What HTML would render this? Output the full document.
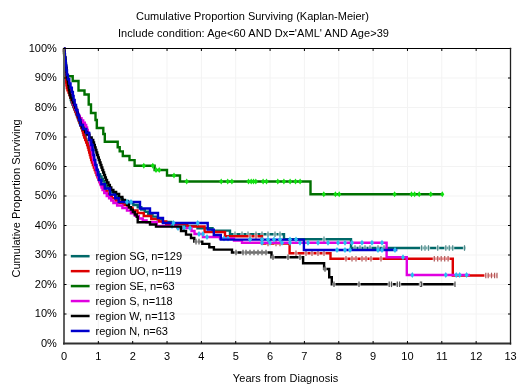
<!DOCTYPE html>
<html><head><meta charset="utf-8"><style>
html,body{margin:0;padding:0;background:#fff;}
svg{display:block;will-change:transform;}
text{font-family:"Liberation Sans",sans-serif;font-size:11px;fill:#000;}
</style></head><body>
<svg width="520" height="390" viewBox="0 0 520 390">
<rect width="520" height="390" fill="#fff"/>
<line x1="98.35" y1="48.5" x2="98.35" y2="343.5" stroke="#f3f3f3" stroke-width="1"/>
<line x1="132.69" y1="48.5" x2="132.69" y2="343.5" stroke="#f3f3f3" stroke-width="1"/>
<line x1="167.04" y1="48.5" x2="167.04" y2="343.5" stroke="#f3f3f3" stroke-width="1"/>
<line x1="201.38" y1="48.5" x2="201.38" y2="343.5" stroke="#f3f3f3" stroke-width="1"/>
<line x1="235.73" y1="48.5" x2="235.73" y2="343.5" stroke="#f3f3f3" stroke-width="1"/>
<line x1="270.08" y1="48.5" x2="270.08" y2="343.5" stroke="#f3f3f3" stroke-width="1"/>
<line x1="304.42" y1="48.5" x2="304.42" y2="343.5" stroke="#f3f3f3" stroke-width="1"/>
<line x1="338.77" y1="48.5" x2="338.77" y2="343.5" stroke="#f3f3f3" stroke-width="1"/>
<line x1="373.12" y1="48.5" x2="373.12" y2="343.5" stroke="#f3f3f3" stroke-width="1"/>
<line x1="407.46" y1="48.5" x2="407.46" y2="343.5" stroke="#f3f3f3" stroke-width="1"/>
<line x1="441.81" y1="48.5" x2="441.81" y2="343.5" stroke="#f3f3f3" stroke-width="1"/>
<line x1="476.15" y1="48.5" x2="476.15" y2="343.5" stroke="#f3f3f3" stroke-width="1"/>
<line x1="64.0" y1="314.00" x2="510.5" y2="314.00" stroke="#f3f3f3" stroke-width="1"/>
<line x1="64.0" y1="284.50" x2="510.5" y2="284.50" stroke="#f3f3f3" stroke-width="1"/>
<line x1="64.0" y1="255.00" x2="510.5" y2="255.00" stroke="#f3f3f3" stroke-width="1"/>
<line x1="64.0" y1="225.50" x2="510.5" y2="225.50" stroke="#f3f3f3" stroke-width="1"/>
<line x1="64.0" y1="196.00" x2="510.5" y2="196.00" stroke="#f3f3f3" stroke-width="1"/>
<line x1="64.0" y1="166.50" x2="510.5" y2="166.50" stroke="#f3f3f3" stroke-width="1"/>
<line x1="64.0" y1="137.00" x2="510.5" y2="137.00" stroke="#f3f3f3" stroke-width="1"/>
<line x1="64.0" y1="107.50" x2="510.5" y2="107.50" stroke="#f3f3f3" stroke-width="1"/>
<line x1="64.0" y1="78.00" x2="510.5" y2="78.00" stroke="#f3f3f3" stroke-width="1"/>
<path d="M64.00,48.50H64.11V50.89H64.33V53.28H64.56V55.67H64.78V58.06H65.00V60.44H65.22V62.83H65.44V65.22H65.67V67.61H65.89V70.00H66.00H66.19V72.31H66.58V74.62H66.96V76.92H67.35V79.23H67.73V81.54H68.12V83.85H68.50V86.15H68.88V88.46H69.27V90.77H69.65V93.08H70.04V95.38H70.42V97.69H70.81V100.00H71.00H71.46V102.33H72.38V104.67H73.29V107.00H74.21V109.33H75.12V111.67H76.04V114.00H76.96V116.33H77.88V118.67H78.79V121.00H79.71V123.33H80.62V125.67H81.54V128.00H82.00H82.40V130.20H83.20V132.40H84.00V134.60H84.80V136.80H85.60V139.00H86.40V141.20H87.20V143.40H88.00V145.60H88.80V147.80H89.60V150.00H90.00H90.40V152.20H91.20V154.40H92.00V156.60H92.80V158.80H93.60V161.00H94.40V163.20H95.20V165.40H96.00V167.60H96.80V169.80H97.60V172.00H98.00H98.71V174.29H100.14V176.57H101.57V178.86H103.00V181.14H104.43V183.43H105.86V185.71H107.29V188.00H108.00H109.20V190.20H111.60V192.40H114.00V194.60H116.40V196.80H118.80V199.00H120.00H122.67V201.00H128.00V203.00H133.33V205.00H136.00H137.75V207.25H141.25V209.50H144.75V211.75H148.25V214.00H150.00H152.50V216.67H157.50V219.33H162.50V222.00H165.00H171.25V224.00H183.75V226.00H190.00H197.50V228.30H212.50V230.60H220.00H230.00V234.20H284.00V239.20H351.00V248.00H466.00" fill="none" stroke="#006868" stroke-width="2.4" stroke-linejoin="miter" stroke-linecap="butt"/>
<rect x="233.4" y="232.6" width="3.2" height="3.2" fill="#fff" opacity="0.7"/><path d="M235.0,231.4v5.6" stroke="#508a8a" stroke-width="1.2" fill="none"/>
<rect x="240.4" y="232.6" width="3.2" height="3.2" fill="#fff" opacity="0.7"/><path d="M242.0,231.4v5.6" stroke="#508a8a" stroke-width="1.2" fill="none"/>
<rect x="246.4" y="232.6" width="3.2" height="3.2" fill="#fff" opacity="0.7"/><path d="M248.0,231.4v5.6" stroke="#508a8a" stroke-width="1.2" fill="none"/>
<rect x="254.4" y="232.6" width="3.2" height="3.2" fill="#fff" opacity="0.7"/><path d="M256.0,231.4v5.6" stroke="#508a8a" stroke-width="1.2" fill="none"/>
<rect x="260.4" y="232.6" width="3.2" height="3.2" fill="#fff" opacity="0.7"/><path d="M262.0,231.4v5.6" stroke="#508a8a" stroke-width="1.2" fill="none"/>
<rect x="266.4" y="232.6" width="3.2" height="3.2" fill="#fff" opacity="0.7"/><path d="M268.0,231.4v5.6" stroke="#508a8a" stroke-width="1.2" fill="none"/>
<rect x="273.4" y="232.6" width="3.2" height="3.2" fill="#fff" opacity="0.7"/><path d="M275.0,231.4v5.6" stroke="#508a8a" stroke-width="1.2" fill="none"/>
<rect x="278.4" y="232.6" width="3.2" height="3.2" fill="#fff" opacity="0.7"/><path d="M280.0,231.4v5.6" stroke="#508a8a" stroke-width="1.2" fill="none"/>
<rect x="322.4" y="237.6" width="3.2" height="3.2" fill="#fff" opacity="0.7"/><path d="M324.0,236.4v5.6" stroke="#508a8a" stroke-width="1.2" fill="none"/>
<rect x="353.4" y="246.4" width="3.2" height="3.2" fill="#fff" opacity="0.7"/><path d="M355.0,245.2v5.6" stroke="#508a8a" stroke-width="1.2" fill="none"/>
<rect x="358.4" y="246.4" width="3.2" height="3.2" fill="#fff" opacity="0.7"/><path d="M360.0,245.2v5.6" stroke="#508a8a" stroke-width="1.2" fill="none"/>
<rect x="363.4" y="246.4" width="3.2" height="3.2" fill="#fff" opacity="0.7"/><path d="M365.0,245.2v5.6" stroke="#508a8a" stroke-width="1.2" fill="none"/>
<rect x="368.4" y="246.4" width="3.2" height="3.2" fill="#fff" opacity="0.7"/><path d="M370.0,245.2v5.6" stroke="#508a8a" stroke-width="1.2" fill="none"/>
<rect x="376.4" y="246.4" width="3.2" height="3.2" fill="#fff" opacity="0.7"/><path d="M378.0,245.2v5.6" stroke="#508a8a" stroke-width="1.2" fill="none"/>
<rect x="382.4" y="246.4" width="3.2" height="3.2" fill="#fff" opacity="0.7"/><path d="M384.0,245.2v5.6" stroke="#508a8a" stroke-width="1.2" fill="none"/>
<rect x="420.0" y="246.4" width="3.2" height="3.2" fill="#fff" opacity="0.7"/><path d="M421.6,245.2v5.6" stroke="#508a8a" stroke-width="1.2" fill="none"/>
<rect x="423.4" y="246.4" width="3.2" height="3.2" fill="#fff" opacity="0.7"/><path d="M425.0,245.2v5.6" stroke="#508a8a" stroke-width="1.2" fill="none"/>
<rect x="426.9" y="246.4" width="3.2" height="3.2" fill="#fff" opacity="0.7"/><path d="M428.5,245.2v5.6" stroke="#508a8a" stroke-width="1.2" fill="none"/>
<rect x="436.1" y="246.4" width="3.2" height="3.2" fill="#fff" opacity="0.7"/><path d="M437.7,245.2v5.6" stroke="#508a8a" stroke-width="1.2" fill="none"/>
<rect x="444.2" y="246.4" width="3.2" height="3.2" fill="#fff" opacity="0.7"/><path d="M445.8,245.2v5.6" stroke="#508a8a" stroke-width="1.2" fill="none"/>
<rect x="447.7" y="246.4" width="3.2" height="3.2" fill="#fff" opacity="0.7"/><path d="M449.3,245.2v5.6" stroke="#508a8a" stroke-width="1.2" fill="none"/>
<rect x="451.1" y="246.4" width="3.2" height="3.2" fill="#fff" opacity="0.7"/><path d="M452.7,245.2v5.6" stroke="#508a8a" stroke-width="1.2" fill="none"/>
<rect x="462.9" y="246.4" width="3.2" height="3.2" fill="#fff" opacity="0.7"/><path d="M464.5,245.2v5.6" stroke="#508a8a" stroke-width="1.2" fill="none"/>
<path d="M64.00,48.50H64.03V50.80H64.09V53.10H64.15V55.40H64.21V57.70H64.27V60.00H64.30H64.34V62.40H64.42V64.80H64.50V67.20H64.58V69.60H64.66V72.00H64.70H64.89V74.67H65.28V77.33H65.66V80.00H66.04V82.67H66.42V85.33H66.81V88.00H67.00H67.50V90.33H68.50V92.67H69.50V95.00H70.00H70.43V97.43H71.29V99.86H72.14V102.29H73.00V104.71H73.86V107.14H74.71V109.57H75.57V112.00H76.00H76.50V114.67H77.50V117.33H78.50V120.00H79.50V122.67H80.50V125.33H81.50V128.00H82.00H82.30V130.33H82.90V132.67H83.50V135.00H83.80H84.27V137.50H85.22V140.00H86.17V142.50H87.12V145.00H87.60H87.92V147.50H88.57V150.00H89.22V152.50H89.88V155.00H90.53V157.50H91.17V160.00H91.50H91.96V162.50H92.88V165.00H93.79V167.50H94.71V170.00H95.62V172.50H96.54V175.00H97.00H97.50V177.25H98.50V179.50H99.50V181.75H100.50V184.00H101.00H101.90V186.40H103.70V188.80H105.50V191.20H107.30V193.60H109.10V196.00H110.00H111.88V198.25H115.62V200.50H119.38V202.75H123.12V205.00H125.00H127.50V207.67H132.50V210.33H137.50V213.00H140.00H143.75V216.00H151.25V219.00H155.00H158.75V221.50H166.25V224.00H170.00H187.30V226.50H204.60V232.00H225.00V236.30H262.00V243.50H289.60V253.30H330.50V258.80H452.80V275.50H497.00" fill="none" stroke="#dd0000" stroke-width="2.4" stroke-linejoin="miter" stroke-linecap="butt"/>
<rect x="248.4" y="234.7" width="3.2" height="3.2" fill="#fff" opacity="0.7"/><path d="M250.0,233.5v5.6" stroke="#b05858" stroke-width="1.2" fill="none"/>
<rect x="254.4" y="234.7" width="3.2" height="3.2" fill="#fff" opacity="0.7"/><path d="M256.0,233.5v5.6" stroke="#b05858" stroke-width="1.2" fill="none"/>
<rect x="266.4" y="241.9" width="3.2" height="3.2" fill="#fff" opacity="0.7"/><path d="M268.0,240.7v5.6" stroke="#b05858" stroke-width="1.2" fill="none"/>
<rect x="274.4" y="241.9" width="3.2" height="3.2" fill="#fff" opacity="0.7"/><path d="M276.0,240.7v5.6" stroke="#b05858" stroke-width="1.2" fill="none"/>
<rect x="278.4" y="241.9" width="3.2" height="3.2" fill="#fff" opacity="0.7"/><path d="M280.0,240.7v5.6" stroke="#b05858" stroke-width="1.2" fill="none"/>
<rect x="294.4" y="251.7" width="3.2" height="3.2" fill="#fff" opacity="0.7"/><path d="M296.0,250.5v5.6" stroke="#b05858" stroke-width="1.2" fill="none"/>
<rect x="304.4" y="251.7" width="3.2" height="3.2" fill="#fff" opacity="0.7"/><path d="M306.0,250.5v5.6" stroke="#b05858" stroke-width="1.2" fill="none"/>
<rect x="310.4" y="251.7" width="3.2" height="3.2" fill="#fff" opacity="0.7"/><path d="M312.0,250.5v5.6" stroke="#b05858" stroke-width="1.2" fill="none"/>
<rect x="316.4" y="251.7" width="3.2" height="3.2" fill="#fff" opacity="0.7"/><path d="M318.0,250.5v5.6" stroke="#b05858" stroke-width="1.2" fill="none"/>
<rect x="322.4" y="251.7" width="3.2" height="3.2" fill="#fff" opacity="0.7"/><path d="M324.0,250.5v5.6" stroke="#b05858" stroke-width="1.2" fill="none"/>
<rect x="344.4" y="257.2" width="3.2" height="3.2" fill="#fff" opacity="0.7"/><path d="M346.0,256.0v5.6" stroke="#b05858" stroke-width="1.2" fill="none"/>
<rect x="350.4" y="257.2" width="3.2" height="3.2" fill="#fff" opacity="0.7"/><path d="M352.0,256.0v5.6" stroke="#b05858" stroke-width="1.2" fill="none"/>
<rect x="354.4" y="257.2" width="3.2" height="3.2" fill="#fff" opacity="0.7"/><path d="M356.0,256.0v5.6" stroke="#b05858" stroke-width="1.2" fill="none"/>
<rect x="360.4" y="257.2" width="3.2" height="3.2" fill="#fff" opacity="0.7"/><path d="M362.0,256.0v5.6" stroke="#b05858" stroke-width="1.2" fill="none"/>
<rect x="364.4" y="257.2" width="3.2" height="3.2" fill="#fff" opacity="0.7"/><path d="M366.0,256.0v5.6" stroke="#b05858" stroke-width="1.2" fill="none"/>
<rect x="369.4" y="257.2" width="3.2" height="3.2" fill="#fff" opacity="0.7"/><path d="M371.0,256.0v5.6" stroke="#b05858" stroke-width="1.2" fill="none"/>
<rect x="379.4" y="257.2" width="3.2" height="3.2" fill="#fff" opacity="0.7"/><path d="M381.0,256.0v5.6" stroke="#b05858" stroke-width="1.2" fill="none"/>
<rect x="432.7" y="257.2" width="3.2" height="3.2" fill="#fff" opacity="0.7"/><path d="M434.3,256.0v5.6" stroke="#b05858" stroke-width="1.2" fill="none"/>
<rect x="436.1" y="257.2" width="3.2" height="3.2" fill="#fff" opacity="0.7"/><path d="M437.7,256.0v5.6" stroke="#b05858" stroke-width="1.2" fill="none"/>
<rect x="439.6" y="257.2" width="3.2" height="3.2" fill="#fff" opacity="0.7"/><path d="M441.2,256.0v5.6" stroke="#b05858" stroke-width="1.2" fill="none"/>
<rect x="443.1" y="257.2" width="3.2" height="3.2" fill="#fff" opacity="0.7"/><path d="M444.7,256.0v5.6" stroke="#b05858" stroke-width="1.2" fill="none"/>
<rect x="446.5" y="257.2" width="3.2" height="3.2" fill="#fff" opacity="0.7"/><path d="M448.1,256.0v5.6" stroke="#b05858" stroke-width="1.2" fill="none"/>
<rect x="484.2" y="273.9" width="3.2" height="3.2" fill="#fff" opacity="0.7"/><path d="M485.8,272.7v5.6" stroke="#b05858" stroke-width="1.2" fill="none"/>
<rect x="486.6" y="273.9" width="3.2" height="3.2" fill="#fff" opacity="0.7"/><path d="M488.2,272.7v5.6" stroke="#b05858" stroke-width="1.2" fill="none"/>
<rect x="489.9" y="273.9" width="3.2" height="3.2" fill="#fff" opacity="0.7"/><path d="M491.5,272.7v5.6" stroke="#b05858" stroke-width="1.2" fill="none"/>
<rect x="493.0" y="273.9" width="3.2" height="3.2" fill="#fff" opacity="0.7"/><path d="M494.6,272.7v5.6" stroke="#b05858" stroke-width="1.2" fill="none"/>
<rect x="495.4" y="273.9" width="3.2" height="3.2" fill="#fff" opacity="0.7"/><path d="M497.0,272.7v5.6" stroke="#b05858" stroke-width="1.2" fill="none"/>
<path d="M64,48.5V53H64.7V58H65.4V63H66V68H66.8V76.2H72.7V81H78.5V90.5H84.5V94.5H88.7V104.5H91V113H95.5V120H96.8V128H103.3V134H104.8V141.8H117.7V147.3H119.7V151.4H122.8V156H129.5V160.1H134.6V165.7H154.6V170H167V175.5H180V181.5H310.5V194.2H442.5" fill="none" stroke="#007000" stroke-width="2.4" stroke-linejoin="miter" stroke-linecap="butt"/>
<path d="M143.8,162.7l2,3l-2,3l-2,-3z" fill="#10e010"/>
<path d="M152.8,162.7l2,3l-2,3l-2,-3z" fill="#10e010"/>
<path d="M156.0,167.0l2,3l-2,3l-2,-3z" fill="#10e010"/>
<path d="M159.2,167.0l2,3l-2,3l-2,-3z" fill="#10e010"/>
<path d="M174.0,172.5l2,3l-2,3l-2,-3z" fill="#10e010"/>
<path d="M186.7,178.5l2,3l-2,3l-2,-3z" fill="#10e010"/>
<path d="M221.2,178.5l2,3l-2,3l-2,-3z" fill="#10e010"/>
<path d="M227.7,178.5l2,3l-2,3l-2,-3z" fill="#10e010"/>
<path d="M231.9,178.5l2,3l-2,3l-2,-3z" fill="#10e010"/>
<path d="M248.5,178.5l2,3l-2,3l-2,-3z" fill="#10e010"/>
<path d="M251.2,178.5l2,3l-2,3l-2,-3z" fill="#10e010"/>
<path d="M253.5,178.5l2,3l-2,3l-2,-3z" fill="#10e010"/>
<path d="M255.8,178.5l2,3l-2,3l-2,-3z" fill="#10e010"/>
<path d="M263.1,178.5l2,3l-2,3l-2,-3z" fill="#10e010"/>
<path d="M266.5,178.5l2,3l-2,3l-2,-3z" fill="#10e010"/>
<path d="M277.8,178.5l2,3l-2,3l-2,-3z" fill="#10e010"/>
<path d="M283.9,178.5l2,3l-2,3l-2,-3z" fill="#10e010"/>
<path d="M290.1,178.5l2,3l-2,3l-2,-3z" fill="#10e010"/>
<path d="M295.5,178.5l2,3l-2,3l-2,-3z" fill="#10e010"/>
<path d="M300.1,178.5l2,3l-2,3l-2,-3z" fill="#10e010"/>
<path d="M323.8,191.2l2,3l-2,3l-2,-3z" fill="#10e010"/>
<path d="M335.4,191.2l2,3l-2,3l-2,-3z" fill="#10e010"/>
<path d="M339.2,191.2l2,3l-2,3l-2,-3z" fill="#10e010"/>
<path d="M394.6,191.2l2,3l-2,3l-2,-3z" fill="#10e010"/>
<path d="M411.5,191.2l2,3l-2,3l-2,-3z" fill="#10e010"/>
<path d="M414.6,191.2l2,3l-2,3l-2,-3z" fill="#10e010"/>
<path d="M419.2,191.2l2,3l-2,3l-2,-3z" fill="#10e010"/>
<path d="M430.8,191.2l2,3l-2,3l-2,-3z" fill="#10e010"/>
<path d="M442.3,191.2l2,3l-2,3l-2,-3z" fill="#10e010"/>
<path d="M64.00,48.50H64.11V50.89H64.33V53.28H64.56V55.67H64.78V58.06H65.00V60.44H65.22V62.83H65.44V65.22H65.67V67.61H65.89V70.00H66.00H66.27V72.46H66.81V74.92H67.35V77.38H67.88V79.85H68.42V82.31H68.96V84.77H69.50V87.23H70.04V89.69H70.58V92.15H71.12V94.62H71.65V97.08H72.19V99.54H72.73V102.00H73.00H73.50V104.33H74.50V106.67H75.50V109.00H76.50V111.33H77.50V113.67H78.50V116.00H79.00H79.84V118.25H81.51V120.50H83.19V122.75H84.86V125.00H85.70H86.15V127.50H87.05V130.00H87.50H87.81V132.50H88.44V135.00H89.06V137.50H89.69V140.00H90.00H90.22V142.50H90.66V145.00H91.09V147.50H91.53V150.00H91.97V152.50H92.41V155.00H92.84V157.50H93.28V160.00H93.50H93.86V162.50H94.57V165.00H95.28V167.50H95.99V170.00H96.71V172.50H97.42V175.00H98.13V177.50H98.84V180.00H99.20H99.67V182.50H100.62V185.00H101.58V187.50H102.53V190.00H103.00H104.25V193.00H106.75V196.00H108.00H109.08V198.33H111.25V200.67H113.42V203.00H114.50H117.12V205.50H122.38V208.00H125.00H126.97V210.62H130.93V213.25H134.88V215.88H138.83V218.50H140.80H142.73V220.40H146.57V222.30H148.50H156.75V226.00H165.00H177.50V228.00H190.00H191.50V231.00H194.50V234.00H196.00H203.00V237.00H210.00H220.00V238.50H230.00H234.00V240.60H242.00V242.70H246.00H386.60V257.30H406.80V275.00H470.00" fill="none" stroke="#e000e0" stroke-width="2.4" stroke-linejoin="miter" stroke-linecap="butt"/>
<path d="M172.0,223.0l2,3l-2,3l-2,-3z" fill="#28c0f0"/>
<path d="M178.0,225.0l2,3l-2,3l-2,-3z" fill="#28c0f0"/>
<path d="M184.0,225.0l2,3l-2,3l-2,-3z" fill="#28c0f0"/>
<path d="M190.0,225.0l2,3l-2,3l-2,-3z" fill="#28c0f0"/>
<path d="M199.0,231.0l2,3l-2,3l-2,-3z" fill="#28c0f0"/>
<path d="M203.0,231.0l2,3l-2,3l-2,-3z" fill="#28c0f0"/>
<path d="M207.0,234.0l2,3l-2,3l-2,-3z" fill="#28c0f0"/>
<path d="M224.0,235.5l2,3l-2,3l-2,-3z" fill="#28c0f0"/>
<path d="M228.0,235.5l2,3l-2,3l-2,-3z" fill="#28c0f0"/>
<path d="M262.0,239.7l2,3l-2,3l-2,-3z" fill="#28c0f0"/>
<path d="M270.0,239.7l2,3l-2,3l-2,-3z" fill="#28c0f0"/>
<path d="M282.0,239.7l2,3l-2,3l-2,-3z" fill="#28c0f0"/>
<path d="M290.0,239.7l2,3l-2,3l-2,-3z" fill="#28c0f0"/>
<path d="M300.0,239.7l2,3l-2,3l-2,-3z" fill="#28c0f0"/>
<path d="M308.0,239.7l2,3l-2,3l-2,-3z" fill="#28c0f0"/>
<path d="M318.0,239.7l2,3l-2,3l-2,-3z" fill="#28c0f0"/>
<path d="M328.0,239.7l2,3l-2,3l-2,-3z" fill="#28c0f0"/>
<path d="M338.0,239.7l2,3l-2,3l-2,-3z" fill="#28c0f0"/>
<path d="M345.0,239.7l2,3l-2,3l-2,-3z" fill="#28c0f0"/>
<path d="M352.0,239.7l2,3l-2,3l-2,-3z" fill="#28c0f0"/>
<path d="M362.0,239.7l2,3l-2,3l-2,-3z" fill="#28c0f0"/>
<path d="M372.0,239.7l2,3l-2,3l-2,-3z" fill="#28c0f0"/>
<path d="M382.0,239.7l2,3l-2,3l-2,-3z" fill="#28c0f0"/>
<path d="M403.0,254.3l2,3l-2,3l-2,-3z" fill="#28c0f0"/>
<path d="M412.3,272.0l2,3l-2,3l-2,-3z" fill="#28c0f0"/>
<path d="M445.8,272.0l2,3l-2,3l-2,-3z" fill="#28c0f0"/>
<path d="M456.2,272.0l2,3l-2,3l-2,-3z" fill="#28c0f0"/>
<path d="M459.7,272.0l2,3l-2,3l-2,-3z" fill="#28c0f0"/>
<path d="M466.6,272.0l2,3l-2,3l-2,-3z" fill="#28c0f0"/>
<path d="M64.00,48.50H64.19V51.38H64.56V54.25H64.94V57.12H65.31V60.00H65.50H65.60V62.40H65.80V64.80H66.00V67.20H66.20V69.60H66.40V72.00H66.50H66.69V74.56H67.08V77.11H67.47V79.67H67.86V82.22H68.25V84.78H68.64V87.33H69.03V89.89H69.42V92.44H69.81V95.00H70.00H70.62V97.50H71.88V100.00H72.50H73.03V102.50H74.08V105.00H75.12V107.50H76.17V110.00H76.70H77.08V112.50H77.83V115.00H78.58V117.50H79.33V120.00H80.08V122.50H80.83V125.00H81.20H82.00V127.33H83.60V129.67H85.20V132.00H86.00H87.13V134.67H89.40V137.33H91.67V140.00H92.80H93.20V142.50H94.00V145.00H94.80V147.50H95.60V150.00H96.40V152.50H97.20V155.00H98.00V157.50H98.80V160.00H99.20H99.64V162.50H100.53V165.00H101.42V167.50H102.31V170.00H103.19V172.50H104.08V175.00H104.97V177.50H105.86V180.00H106.30H107.01V182.50H108.44V185.00H109.86V187.50H111.29V190.00H112.00H113.38V192.00H116.12V194.00H117.50H119.12V197.00H122.38V200.00H124.00H124.98V202.41H126.94V204.83H128.89V207.24H130.85V209.66H132.81V212.07H134.76V214.49H136.72V216.90H137.70V222.30H150.00V224.50H156.00V226.60H181.00V231.00H186.00V234.60H191.00V238.00H194.30V241.60H202.30V243.90H209.30V247.30H213.90V249.60H232.00V252.50H271.50V257.30H303.10V263.30H324.10V269.00H329.20V277.20H331.80V284.30H455.00" fill="none" stroke="#000000" stroke-width="2.4" stroke-linejoin="miter" stroke-linecap="butt"/>
<rect x="194.4" y="240.0" width="3.2" height="3.2" fill="#fff" opacity="0.7"/><path d="M196.0,238.8v5.6" stroke="#505050" stroke-width="1.2" fill="none"/>
<rect x="197.4" y="240.0" width="3.2" height="3.2" fill="#fff" opacity="0.7"/><path d="M199.0,238.8v5.6" stroke="#505050" stroke-width="1.2" fill="none"/>
<rect x="234.4" y="250.9" width="3.2" height="3.2" fill="#fff" opacity="0.7"/><path d="M236.0,249.7v5.6" stroke="#505050" stroke-width="1.2" fill="none"/>
<rect x="241.4" y="250.9" width="3.2" height="3.2" fill="#fff" opacity="0.7"/><path d="M243.0,249.7v5.6" stroke="#505050" stroke-width="1.2" fill="none"/>
<rect x="244.4" y="250.9" width="3.2" height="3.2" fill="#fff" opacity="0.7"/><path d="M246.0,249.7v5.6" stroke="#505050" stroke-width="1.2" fill="none"/>
<rect x="248.4" y="250.9" width="3.2" height="3.2" fill="#fff" opacity="0.7"/><path d="M250.0,249.7v5.6" stroke="#505050" stroke-width="1.2" fill="none"/>
<rect x="252.4" y="250.9" width="3.2" height="3.2" fill="#fff" opacity="0.7"/><path d="M254.0,249.7v5.6" stroke="#505050" stroke-width="1.2" fill="none"/>
<rect x="256.4" y="250.9" width="3.2" height="3.2" fill="#fff" opacity="0.7"/><path d="M258.0,249.7v5.6" stroke="#505050" stroke-width="1.2" fill="none"/>
<rect x="260.4" y="250.9" width="3.2" height="3.2" fill="#fff" opacity="0.7"/><path d="M262.0,249.7v5.6" stroke="#505050" stroke-width="1.2" fill="none"/>
<rect x="264.4" y="250.9" width="3.2" height="3.2" fill="#fff" opacity="0.7"/><path d="M266.0,249.7v5.6" stroke="#505050" stroke-width="1.2" fill="none"/>
<rect x="271.4" y="255.7" width="3.2" height="3.2" fill="#fff" opacity="0.7"/><path d="M273.0,254.5v5.6" stroke="#505050" stroke-width="1.2" fill="none"/>
<rect x="286.4" y="255.7" width="3.2" height="3.2" fill="#fff" opacity="0.7"/><path d="M288.0,254.5v5.6" stroke="#505050" stroke-width="1.2" fill="none"/>
<rect x="298.4" y="255.7" width="3.2" height="3.2" fill="#fff" opacity="0.7"/><path d="M300.0,254.5v5.6" stroke="#505050" stroke-width="1.2" fill="none"/>
<rect x="323.4" y="267.4" width="3.2" height="3.2" fill="#fff" opacity="0.7"/><path d="M325.0,266.2v5.6" stroke="#505050" stroke-width="1.2" fill="none"/>
<rect x="332.4" y="282.7" width="3.2" height="3.2" fill="#fff" opacity="0.7"/><path d="M334.0,281.5v5.6" stroke="#505050" stroke-width="1.2" fill="none"/>
<rect x="357.4" y="282.7" width="3.2" height="3.2" fill="#fff" opacity="0.7"/><path d="M359.0,281.5v5.6" stroke="#505050" stroke-width="1.2" fill="none"/>
<rect x="387.6" y="282.7" width="3.2" height="3.2" fill="#fff" opacity="0.7"/><path d="M389.2,281.5v5.6" stroke="#505050" stroke-width="1.2" fill="none"/>
<rect x="389.9" y="282.7" width="3.2" height="3.2" fill="#fff" opacity="0.7"/><path d="M391.5,281.5v5.6" stroke="#505050" stroke-width="1.2" fill="none"/>
<rect x="395.7" y="282.7" width="3.2" height="3.2" fill="#fff" opacity="0.7"/><path d="M397.3,281.5v5.6" stroke="#505050" stroke-width="1.2" fill="none"/>
<rect x="398.0" y="282.7" width="3.2" height="3.2" fill="#fff" opacity="0.7"/><path d="M399.6,281.5v5.6" stroke="#505050" stroke-width="1.2" fill="none"/>
<rect x="418.8" y="282.7" width="3.2" height="3.2" fill="#fff" opacity="0.7"/><path d="M420.4,281.5v5.6" stroke="#505050" stroke-width="1.2" fill="none"/>
<rect x="420.0" y="282.7" width="3.2" height="3.2" fill="#fff" opacity="0.7"/><path d="M421.6,281.5v5.6" stroke="#505050" stroke-width="1.2" fill="none"/>
<rect x="453.4" y="282.7" width="3.2" height="3.2" fill="#fff" opacity="0.7"/><path d="M455.0,281.5v5.6" stroke="#505050" stroke-width="1.2" fill="none"/>
<path d="M64.00,48.50H64.25V52.67H64.75V56.83H65.25V61.00H65.50H65.80V65.67H66.40V70.33H67.00V75.00H67.30H67.95V79.25H69.25V83.50H70.55V87.75H71.85V92.00H72.50H72.88V96.00H73.62V100.00H74.00H74.67V105.00H76.03V110.00H76.70H77.45V115.00H78.95V120.00H80.45V125.00H81.20H82.90V129.00H86.30V133.00H88.00H89.25V140.00H90.50H91.30V145.00H92.10H92.53V150.00H93.40V155.00H94.27V160.00H94.70H95.31V165.00H96.54V170.00H97.76V175.00H98.99V180.00H99.60H101.32V184.25H104.78V188.50H106.50H110.00V194.60H113.50H115.22V198.30H118.68V202.00H120.40H140.00V208.50H150.00V213.00H158.00V218.00H163.00V223.00H207.70V229.60H213.80V235.00H220.80V239.60H303.90V250.00H397.30" fill="none" stroke="#0000cc" stroke-width="2.4" stroke-linejoin="miter" stroke-linecap="butt"/>
<path d="M127.0,199.0l2,3l-2,3l-2,-3z" fill="#28c0f0"/>
<path d="M131.0,199.0l2,3l-2,3l-2,-3z" fill="#28c0f0"/>
<path d="M173.5,220.0l2,3l-2,3l-2,-3z" fill="#28c0f0"/>
<path d="M197.7,220.0l2,3l-2,3l-2,-3z" fill="#28c0f0"/>
<path d="M250.0,236.6l2,3l-2,3l-2,-3z" fill="#28c0f0"/>
<path d="M262.0,236.6l2,3l-2,3l-2,-3z" fill="#28c0f0"/>
<path d="M268.0,236.6l2,3l-2,3l-2,-3z" fill="#28c0f0"/>
<path d="M274.0,236.6l2,3l-2,3l-2,-3z" fill="#28c0f0"/>
<path d="M280.0,236.6l2,3l-2,3l-2,-3z" fill="#28c0f0"/>
<path d="M290.0,236.6l2,3l-2,3l-2,-3z" fill="#28c0f0"/>
<path d="M296.0,236.6l2,3l-2,3l-2,-3z" fill="#28c0f0"/>
<path d="M337.0,247.0l2,3l-2,3l-2,-3z" fill="#28c0f0"/>
<path d="M345.0,247.0l2,3l-2,3l-2,-3z" fill="#28c0f0"/>
<path d="M350.0,247.0l2,3l-2,3l-2,-3z" fill="#28c0f0"/>
<path d="M378.0,247.0l2,3l-2,3l-2,-3z" fill="#28c0f0"/>
<path d="M382.0,247.0l2,3l-2,3l-2,-3z" fill="#28c0f0"/>
<path d="M395.0,247.0l2,3l-2,3l-2,-3z" fill="#28c0f0"/>
<line x1="64.0" y1="47.75" x2="64.0" y2="344.5" stroke="#606060" stroke-width="2"/>
<line x1="63.0" y1="343.5" x2="511.2" y2="343.5" stroke="#303030" stroke-width="2"/>
<line x1="63.0" y1="48.5" x2="511.2" y2="48.5" stroke="#000" stroke-width="1.2"/>
<line x1="510.5" y1="47.75" x2="510.5" y2="344.5" stroke="#202020" stroke-width="1.3"/>
<line x1="98.35" y1="343.5" x2="98.35" y2="341.0" stroke="#000" stroke-width="1"/>
<line x1="98.35" y1="48.5" x2="98.35" y2="51.0" stroke="#000" stroke-width="1"/>
<line x1="132.69" y1="343.5" x2="132.69" y2="341.0" stroke="#000" stroke-width="1"/>
<line x1="132.69" y1="48.5" x2="132.69" y2="51.0" stroke="#000" stroke-width="1"/>
<line x1="167.04" y1="343.5" x2="167.04" y2="341.0" stroke="#000" stroke-width="1"/>
<line x1="167.04" y1="48.5" x2="167.04" y2="51.0" stroke="#000" stroke-width="1"/>
<line x1="201.38" y1="343.5" x2="201.38" y2="341.0" stroke="#000" stroke-width="1"/>
<line x1="201.38" y1="48.5" x2="201.38" y2="51.0" stroke="#000" stroke-width="1"/>
<line x1="235.73" y1="343.5" x2="235.73" y2="341.0" stroke="#000" stroke-width="1"/>
<line x1="235.73" y1="48.5" x2="235.73" y2="51.0" stroke="#000" stroke-width="1"/>
<line x1="270.08" y1="343.5" x2="270.08" y2="341.0" stroke="#000" stroke-width="1"/>
<line x1="270.08" y1="48.5" x2="270.08" y2="51.0" stroke="#000" stroke-width="1"/>
<line x1="304.42" y1="343.5" x2="304.42" y2="341.0" stroke="#000" stroke-width="1"/>
<line x1="304.42" y1="48.5" x2="304.42" y2="51.0" stroke="#000" stroke-width="1"/>
<line x1="338.77" y1="343.5" x2="338.77" y2="341.0" stroke="#000" stroke-width="1"/>
<line x1="338.77" y1="48.5" x2="338.77" y2="51.0" stroke="#000" stroke-width="1"/>
<line x1="373.12" y1="343.5" x2="373.12" y2="341.0" stroke="#000" stroke-width="1"/>
<line x1="373.12" y1="48.5" x2="373.12" y2="51.0" stroke="#000" stroke-width="1"/>
<line x1="407.46" y1="343.5" x2="407.46" y2="341.0" stroke="#000" stroke-width="1"/>
<line x1="407.46" y1="48.5" x2="407.46" y2="51.0" stroke="#000" stroke-width="1"/>
<line x1="441.81" y1="343.5" x2="441.81" y2="341.0" stroke="#000" stroke-width="1"/>
<line x1="441.81" y1="48.5" x2="441.81" y2="51.0" stroke="#000" stroke-width="1"/>
<line x1="476.15" y1="343.5" x2="476.15" y2="341.0" stroke="#000" stroke-width="1"/>
<line x1="476.15" y1="48.5" x2="476.15" y2="51.0" stroke="#000" stroke-width="1"/>
<line x1="64.0" y1="314.00" x2="66.5" y2="314.00" stroke="#000" stroke-width="1"/>
<line x1="510.5" y1="314.00" x2="508.0" y2="314.00" stroke="#000" stroke-width="1"/>
<line x1="64.0" y1="284.50" x2="66.5" y2="284.50" stroke="#000" stroke-width="1"/>
<line x1="510.5" y1="284.50" x2="508.0" y2="284.50" stroke="#000" stroke-width="1"/>
<line x1="64.0" y1="255.00" x2="66.5" y2="255.00" stroke="#000" stroke-width="1"/>
<line x1="510.5" y1="255.00" x2="508.0" y2="255.00" stroke="#000" stroke-width="1"/>
<line x1="64.0" y1="225.50" x2="66.5" y2="225.50" stroke="#000" stroke-width="1"/>
<line x1="510.5" y1="225.50" x2="508.0" y2="225.50" stroke="#000" stroke-width="1"/>
<line x1="64.0" y1="196.00" x2="66.5" y2="196.00" stroke="#000" stroke-width="1"/>
<line x1="510.5" y1="196.00" x2="508.0" y2="196.00" stroke="#000" stroke-width="1"/>
<line x1="64.0" y1="166.50" x2="66.5" y2="166.50" stroke="#000" stroke-width="1"/>
<line x1="510.5" y1="166.50" x2="508.0" y2="166.50" stroke="#000" stroke-width="1"/>
<line x1="64.0" y1="137.00" x2="66.5" y2="137.00" stroke="#000" stroke-width="1"/>
<line x1="510.5" y1="137.00" x2="508.0" y2="137.00" stroke="#000" stroke-width="1"/>
<line x1="64.0" y1="107.50" x2="66.5" y2="107.50" stroke="#000" stroke-width="1"/>
<line x1="510.5" y1="107.50" x2="508.0" y2="107.50" stroke="#000" stroke-width="1"/>
<line x1="64.0" y1="78.00" x2="66.5" y2="78.00" stroke="#000" stroke-width="1"/>
<line x1="510.5" y1="78.00" x2="508.0" y2="78.00" stroke="#000" stroke-width="1"/>
<text x="64.00" y="359.5" text-anchor="middle">0</text>
<text x="98.35" y="359.5" text-anchor="middle">1</text>
<text x="132.69" y="359.5" text-anchor="middle">2</text>
<text x="167.04" y="359.5" text-anchor="middle">3</text>
<text x="201.38" y="359.5" text-anchor="middle">4</text>
<text x="235.73" y="359.5" text-anchor="middle">5</text>
<text x="270.08" y="359.5" text-anchor="middle">6</text>
<text x="304.42" y="359.5" text-anchor="middle">7</text>
<text x="338.77" y="359.5" text-anchor="middle">8</text>
<text x="373.12" y="359.5" text-anchor="middle">9</text>
<text x="407.46" y="359.5" text-anchor="middle">10</text>
<text x="441.81" y="359.5" text-anchor="middle">11</text>
<text x="476.15" y="359.5" text-anchor="middle">12</text>
<text x="510.50" y="359.5" text-anchor="middle">13</text>
<text x="56.8" y="346.70" text-anchor="end">0%</text>
<text x="56.8" y="317.20" text-anchor="end">10%</text>
<text x="56.8" y="287.70" text-anchor="end">20%</text>
<text x="56.8" y="258.20" text-anchor="end">30%</text>
<text x="56.8" y="228.70" text-anchor="end">40%</text>
<text x="56.8" y="199.20" text-anchor="end">50%</text>
<text x="56.8" y="169.70" text-anchor="end">60%</text>
<text x="56.8" y="140.20" text-anchor="end">70%</text>
<text x="56.8" y="110.70" text-anchor="end">80%</text>
<text x="56.8" y="81.20" text-anchor="end">90%</text>
<text x="56.8" y="51.70" text-anchor="end">100%</text>
<text x="136" y="19.7">Cumulative Proportion Surviving (Kaplan-Meier)</text>
<text x="118" y="37.3" letter-spacing="0.06">Include condition: Age&lt;60 AND Dx='AML' AND Age&gt;39</text>
<text x="232.8" y="382.3" letter-spacing="0.07">Years from Diagnosis</text>
<text transform="translate(19.8,277.6) rotate(-90)" letter-spacing="0.04">Cumulative Proportion Surviving</text>
<line x1="70.8" y1="256.20" x2="89.6" y2="256.20" stroke="#006868" stroke-width="2.5"/>
<text x="95.5" y="260.20">region SG, n=129</text>
<line x1="70.8" y1="271.15" x2="89.6" y2="271.15" stroke="#dd0000" stroke-width="2.5"/>
<text x="95.5" y="275.15">region UO, n=119</text>
<line x1="70.8" y1="286.10" x2="89.6" y2="286.10" stroke="#007000" stroke-width="2.5"/>
<text x="95.5" y="290.10">region SE, n=63</text>
<line x1="70.8" y1="301.05" x2="89.6" y2="301.05" stroke="#e000e0" stroke-width="2.5"/>
<text x="95.5" y="305.05">region S, n=118</text>
<line x1="70.8" y1="316.00" x2="89.6" y2="316.00" stroke="#000000" stroke-width="2.5"/>
<text x="95.5" y="320.00">region W, n=113</text>
<line x1="70.8" y1="330.95" x2="89.6" y2="330.95" stroke="#0000cc" stroke-width="2.5"/>
<text x="95.5" y="334.95">region N, n=63</text>
</svg>
</body></html>
